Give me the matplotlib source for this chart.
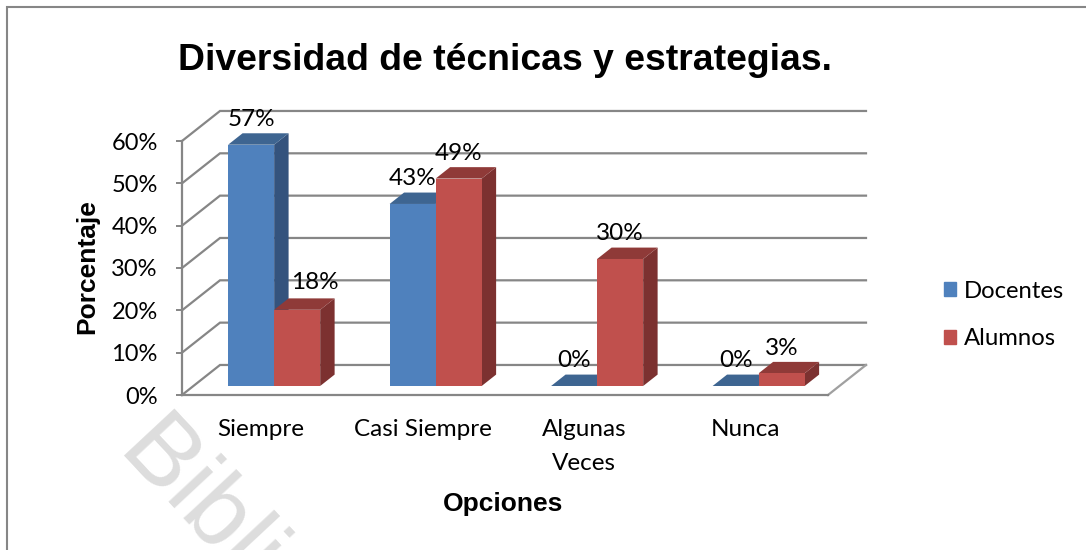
import matplotlib
matplotlib.use("Agg")
import matplotlib.pyplot as plt
from matplotlib.lines import Line2D
from matplotlib.patches import Patch
from matplotlib.ticker import PercentFormatter

categories = ["Siempre", "Casi Siempre", "Algunas\nVeces", "Nunca"]
docentes = [0.57, 0.43, 0.0, 0.0]
alumnos = [0.18, 0.49, 0.30, 0.03]
y_ticks = [0, 0.1, 0.2, 0.3, 0.4, 0.5, 0.6]

W, H = 1086, 550
GRAY = "#868686"
LABEL_FONT = "Lato"
ARIAL = "Liberation Sans"

# depth of the fake 3d box, in data units
DX = 38 / 161.5
DY = 30 / 423
BAR_NEAR = 0.3
BAR_FAR = 0.68
GAP = 0.215
BAR_W = 0.285


def proj(x, y, d):
    return x + d * DX, y + d * DY


fig = plt.figure(figsize=(W / 100, H / 100), dpi=100, facecolor="white")
ax = fig.add_axes([182 / W, 1 - 395 / H, 646 / W, 254 / H])
ax.set_xlim(0, 4)
ax.set_ylim(0, 0.6)
ax.patch.set_visible(False)

# outer frame (only left and top are in the picture) and watermark
fig.add_artist(Line2D([7 / W, 7 / W, 1], [0, 1 - 7 / H, 1 - 7 / H], transform=fig.transFigure,
                      color=GRAY, lw=1.5, solid_joinstyle="miter"))
fig.text(169 / W, 1 - 405 / H, "Bibli", rotation=-47, rotation_mode="anchor",
         fontsize=72, family=ARIAL, color="#dddddd", ha="left", va="top", zorder=0)

# back wall, side wall and floor
for v in y_ticks:
    ax.plot(*zip(proj(0, v, 0), proj(0, v, 1), proj(4, v, 1)), color=GRAY, lw=1.6,
            clip_on=False, zorder=1, solid_joinstyle="miter")
ax.plot(*zip(proj(4, 0, 1), proj(4, 0, 0)), color="#a0a0a0", lw=1.6, clip_on=False, zorder=1)

series = [(docentes, "#4F81BD", "#3E6591", "#34537D"),
          (alumnos, "#C0504D", "#8F3A38", "#7C3130")]

for i in range(len(categories)):
    for j, (vals, front, top, side) in enumerate(series):
        v = vals[i]
        left = i + GAP + j * BAR_W
        x0, base = proj(left, 0, BAR_NEAR)
        x1 = x0 + BAR_W
        ytop = base + v
        zo = 3 + i + j * 0.1

        # side and top faces go in depth from the front rectangle
        sx, sy = (BAR_FAR - BAR_NEAR) * DX, (BAR_FAR - BAR_NEAR) * DY
        ax.fill([x1, x1 + sx, x1 + sx, x1], [base, base + sy, ytop + sy, ytop],
                color=side, lw=0, clip_on=False, zorder=zo)
        ax.fill([x0, x1, x1 + sx, x0 + sx], [ytop, ytop, ytop + sy, ytop + sy],
                color=top, lw=0, clip_on=False, zorder=zo)
        ax.bar(x0, v, BAR_W, bottom=base, align="edge", color=front, lw=0, clip_on=False, zorder=zo)

        # 18% was moved by hand in the original
        off_x = 13 if v == 0.18 else 0
        off_y = 20 if v == 0.18 else 18
        ax.annotate(f"{v:.0%}", (x0 + BAR_W / 2, ytop), xytext=(off_x, off_y),
                    textcoords="offset points", ha="center", va="center",
                    fontsize=17.5, family=LABEL_FONT, color="black",
                    annotation_clip=False, zorder=20)

# axes
for s in ["top", "right"]:
    ax.spines[s].set_visible(False)
for s in ["left", "bottom"]:
    ax.spines[s].set_color(GRAY)
    ax.spines[s].set_linewidth(1.6)
    ax.spines[s].set_zorder(2)

ax.set_yticks(y_ticks)
ax.yaxis.set_major_formatter(PercentFormatter(1, decimals=0))
ax.tick_params(axis="y", length=4.5, width=1.4, color=GRAY, pad=13, labelsize=17)
ax.set_xticks([i + 0.49 for i in range(len(categories))])
ax.set_xticklabels(categories, linespacing=1.77)
ax.tick_params(axis="x", length=0, pad=17.5, labelsize=17.5)
for t in ax.get_xticklabels() + ax.get_yticklabels():
    t.set_family(LABEL_FONT)

fig.text(87 / W, 1 - 267 / H, "Porcentaje", rotation=90, ha="center", va="center",
         fontsize=19, fontweight="bold", family=ARIAL)
fig.text(503 / W, 1 - 504 / H, "Opciones", ha="center", va="center",
         fontsize=19, fontweight="bold", family=ARIAL)
fig.text(505.5 / W, 1 - 60 / H, "Diversidad de técnicas y estrategias.", ha="center", va="center",
         fontsize=26.9, fontweight="bold", family=ARIAL)

handles = [Patch(color="#4F81BD", label="Docentes"), Patch(color="#C0504D", label="Alumnos")]
fig.legend(handles=handles, loc="center left", bbox_to_anchor=(922 / W, 1 - 315 / H), frameon=False,
           prop={"family": LABEL_FONT, "size": 17.2}, handlelength=0.52, handleheight=0.52,
           handletextpad=0.35, labelspacing=1.13)

fig.savefig("out.png", dpi=100)
